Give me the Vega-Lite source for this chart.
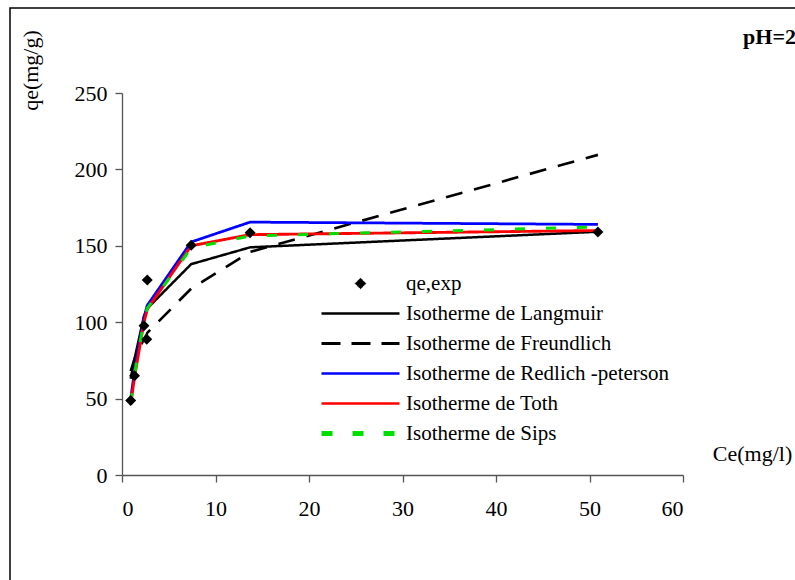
{
  "$schema": "https://vega.github.io/schema/vega-lite/v6.json",
  "width": 786,
  "height": 573,
  "autosize": "none",
  "padding": {"left": 10, "top": 8, "right": 0, "bottom": 0},
  "background": "white",
  "config": {
    "view": {"stroke": "black", "strokeWidth": 1.5},
    "font": "Times New Roman",
    "axis": {
      "grid": false,
      "domainColor": "#555555",
      "domainWidth": 1.3,
      "tickColor": "#555555",
      "tickWidth": 1.3,
      "tickSize": 7,
      "labelFont": "Times New Roman",
      "labelFontSize": 22,
      "labelColor": "black",
      "titleFont": "Times New Roman",
      "titleFontSize": 22,
      "titleFontWeight": "normal",
      "titleColor": "black"
    },
    "legend": {
      "labelFont": "Times New Roman",
      "labelFontSize": 21,
      "labelColor": "black"
    }
  },
  "title": {
    "text": "pH=2",
    "anchor": "end",
    "frame": "group",
    "orient": "top",
    "offset": -58,
    "baseline": "alphabetic",
    "font": "Times New Roman",
    "fontSize": 22,
    "fontWeight": "bold",
    "color": "black"
  },
  "datasets": {
    "modeles": [
      {"Ce": 0.93, "qe": 63, "modele": "Isotherme de Langmuir"},
      {"Ce": 1.34, "qe": 76, "modele": "Isotherme de Langmuir"},
      {"Ce": 2.35, "qe": 104, "modele": "Isotherme de Langmuir"},
      {"Ce": 2.65, "qe": 108, "modele": "Isotherme de Langmuir"},
      {"Ce": 2.7, "qe": 109, "modele": "Isotherme de Langmuir"},
      {"Ce": 7.4, "qe": 138, "modele": "Isotherme de Langmuir"},
      {"Ce": 13.7, "qe": 149, "modele": "Isotherme de Langmuir"},
      {"Ce": 50.9, "qe": 159.2, "modele": "Isotherme de Langmuir"},
      {"Ce": 0.93, "qe": 68, "modele": "Isotherme de Freundlich"},
      {"Ce": 1.34, "qe": 76, "modele": "Isotherme de Freundlich"},
      {"Ce": 2.35, "qe": 89, "modele": "Isotherme de Freundlich"},
      {"Ce": 2.65, "qe": 92, "modele": "Isotherme de Freundlich"},
      {"Ce": 2.7, "qe": 93, "modele": "Isotherme de Freundlich"},
      {"Ce": 7.4, "qe": 122, "modele": "Isotherme de Freundlich"},
      {"Ce": 13.7, "qe": 146, "modele": "Isotherme de Freundlich"},
      {"Ce": 50.9, "qe": 209.5, "modele": "Isotherme de Freundlich"},
      {"Ce": 0.93, "qe": 50, "modele": "Isotherme de Redlich -peterson"},
      {"Ce": 1.34, "qe": 68, "modele": "Isotherme de Redlich -peterson"},
      {"Ce": 2.35, "qe": 103, "modele": "Isotherme de Redlich -peterson"},
      {"Ce": 2.65, "qe": 110, "modele": "Isotherme de Redlich -peterson"},
      {"Ce": 2.7, "qe": 111, "modele": "Isotherme de Redlich -peterson"},
      {"Ce": 7.4, "qe": 152.5, "modele": "Isotherme de Redlich -peterson"},
      {"Ce": 13.7, "qe": 165.5, "modele": "Isotherme de Redlich -peterson"},
      {"Ce": 50.9, "qe": 164, "modele": "Isotherme de Redlich -peterson"},
      {"Ce": 0.93, "qe": 46, "modele": "Isotherme de Toth"},
      {"Ce": 1.34, "qe": 64, "modele": "Isotherme de Toth"},
      {"Ce": 2.35, "qe": 100, "modele": "Isotherme de Toth"},
      {"Ce": 2.65, "qe": 107, "modele": "Isotherme de Toth"},
      {"Ce": 2.7, "qe": 108.5, "modele": "Isotherme de Toth"},
      {"Ce": 7.4, "qe": 150, "modele": "Isotherme de Toth"},
      {"Ce": 13.7, "qe": 157.3, "modele": "Isotherme de Toth"},
      {"Ce": 50.9, "qe": 160, "modele": "Isotherme de Toth"},
      {"Ce": 0.93, "qe": 47, "modele": "Isotherme de Sips"},
      {"Ce": 1.34, "qe": 66, "modele": "Isotherme de Sips"},
      {"Ce": 2.35, "qe": 101, "modele": "Isotherme de Sips"},
      {"Ce": 2.65, "qe": 108, "modele": "Isotherme de Sips"},
      {"Ce": 2.7, "qe": 109, "modele": "Isotherme de Sips"},
      {"Ce": 7.4, "qe": 148.5, "modele": "Isotherme de Sips"},
      {"Ce": 13.7, "qe": 156.5, "modele": "Isotherme de Sips"},
      {"Ce": 50.9, "qe": 162.3, "modele": "Isotherme de Sips"}
    ],
    "experience": [
      {"Ce": 0.93, "qe": 48.8, "modele": "qe,exp"},
      {"Ce": 1.34, "qe": 65, "modele": "qe,exp"},
      {"Ce": 2.35, "qe": 97.7, "modele": "qe,exp"},
      {"Ce": 2.65, "qe": 88.8, "modele": "qe,exp"},
      {"Ce": 2.7, "qe": 127.6, "modele": "qe,exp"},
      {"Ce": 7.4, "qe": 150.3, "modele": "qe,exp"},
      {"Ce": 13.7, "qe": 158.6, "modele": "qe,exp"},
      {"Ce": 50.9, "qe": 159, "modele": "qe,exp"}
    ]
  },
  "encoding": {
    "x": {
      "field": "Ce",
      "type": "quantitative",
      "scale": {"domain": [0, 60], "range": [112, 673], "nice": false, "zero": false},
      "axis": {
        "title": "Ce(mg/l)",
        "values": [0, 10, 20, 30, 40, 50, 60],
        "offset": -106,
        "labelPadding": 16,
        "titleX": 742,
        "titleY": -22,
        "titleAlign": "center",
        "titleBaseline": "middle",
        "titleAnchor": null
      }
    },
    "y": {
      "field": "qe",
      "type": "quantitative",
      "scale": {"domain": [0, 250], "range": [467, 85], "nice": false, "zero": false},
      "axis": {
        "title": "qe(mg/g)",
        "values": [0, 50, 100, 150, 200, 250],
        "offset": -112,
        "labelPadding": 8,
        "titleX": -92,
        "titleY": 62,
        "titleAngle": 270,
        "titleAlign": "center",
        "titleBaseline": "middle",
        "titleAnchor": null
      }
    }
  },
  "layer": [
    {
      "data": {"name": "modeles"},
      "mark": {"type": "line", "clip": false},
      "encoding": {
        "color": {
          "field": "modele",
          "type": "nominal",
          "scale": {
            "domain": ["qe,exp", "Isotherme de Langmuir", "Isotherme de Freundlich", "Isotherme de Redlich -peterson", "Isotherme de Toth", "Isotherme de Sips"],
            "range": ["#000000", "#000000", "#000000", "#0000ff", "#ff0000", "#00e000"]
          },
          "legend": {
            "title": null,
            "orient": "none",
            "legendX": 340,
            "legendY": 265,
            "padding": 0,
            "symbolSize": 100,
            "rowPadding": 8,
            "labelOffset": 35,
            "labelLimit": 400,
            "encode": {
              "symbols": {
                "update": {
                  "shape": {"signal": "datum.value === 'qe,exp' ? 'diamond' : 'stroke'"},
                  "size": {"signal": "datum.value === 'qe,exp' ? 110 : 6084"},
                  "fill": {"signal": "datum.value === 'qe,exp' ? '#000000' : 'transparent'"},
                  "stroke": {"signal": "scale('color', datum.value)"},
                  "strokeWidth": {"signal": "datum.value === 'qe,exp' ? 1 : datum.value === 'Isotherme de Sips' ? 5 : datum.value === 'Isotherme de Freundlich' ? 3 : 2.5"},
                  "strokeDash": {"signal": "datum.value === 'Isotherme de Freundlich' ? [19, 11] : datum.value === 'Isotherme de Sips' ? [11, 20] : [1, 0]"},
                  "opacity": {"value": 1}
                }
              }
            }
          }
        },
        "strokeDash": {
          "field": "modele",
          "type": "nominal",
          "scale": {
            "domain": ["Isotherme de Langmuir", "Isotherme de Freundlich", "Isotherme de Redlich -peterson", "Isotherme de Toth", "Isotherme de Sips"],
            "range": [[1, 0], [17, 12], [1, 0], [1, 0], [10, 21]]
          },
          "legend": null
        },
        "strokeWidth": {
          "field": "modele",
          "type": "nominal",
          "scale": {
            "domain": ["Isotherme de Langmuir", "Isotherme de Freundlich", "Isotherme de Redlich -peterson", "Isotherme de Toth", "Isotherme de Sips"],
            "range": [2.5, 3, 2.5, 2.5, 5.5]
          },
          "legend": null
        },
        "order": {"field": "Ce", "type": "quantitative"}
      }
    },
    {
      "data": {"name": "experience"},
      "mark": {"type": "point", "shape": "diamond", "filled": true, "size": 120, "opacity": 1, "clip": false},
      "encoding": {
        "color": {"field": "modele", "type": "nominal"}
      }
    }
  ]
}
